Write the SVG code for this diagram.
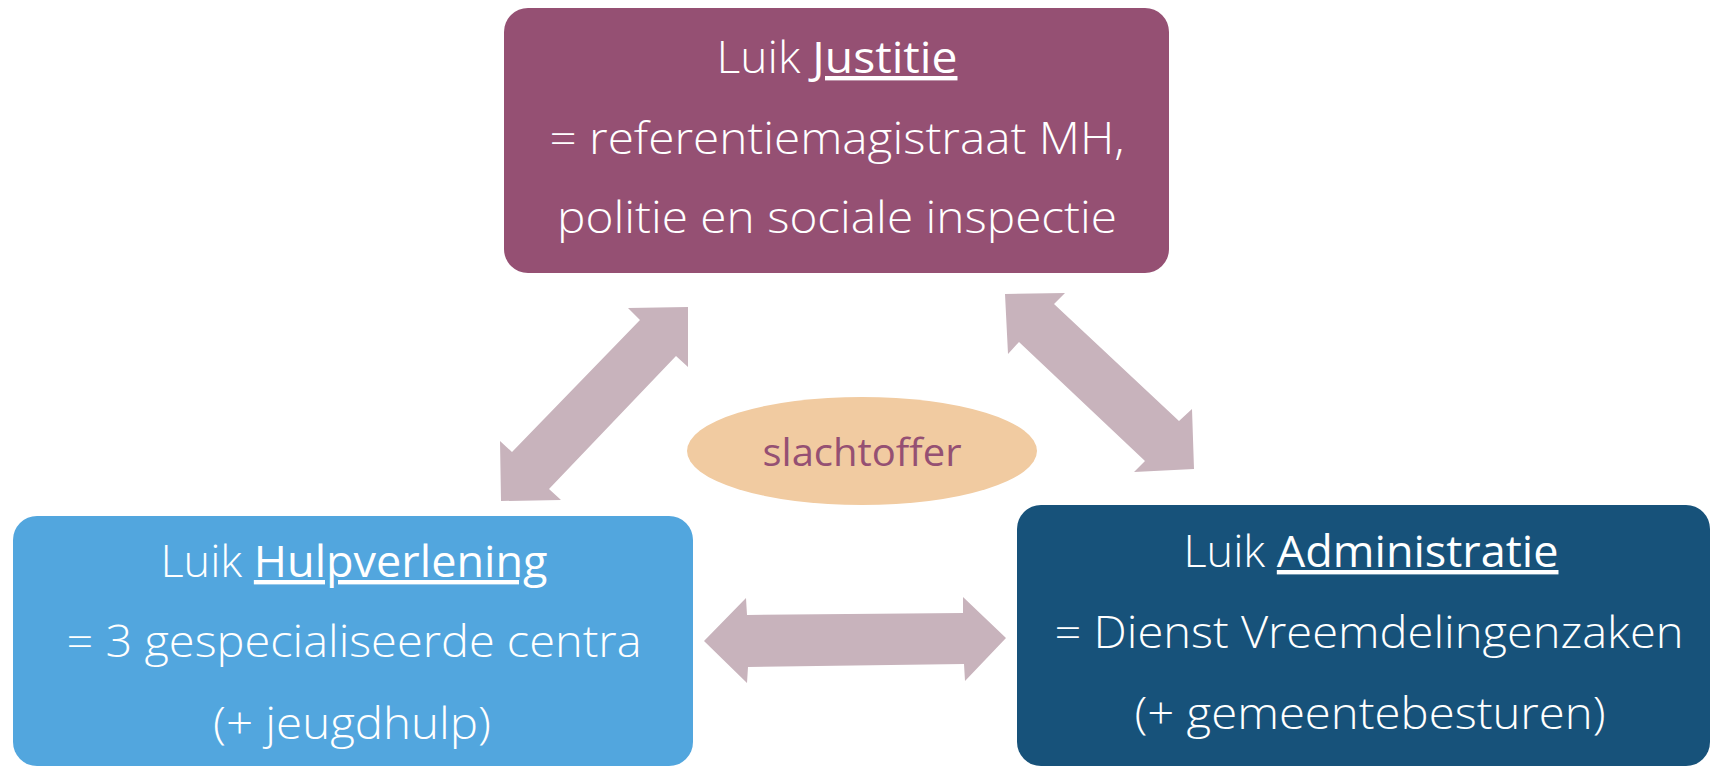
<svg xmlns="http://www.w3.org/2000/svg" width="1711" height="767" viewBox="0 0 1711 767">
<style>
.lbl{font-family:"Open Sans","Liberation Sans",sans-serif;font-size:44px;font-weight:300;fill:#ffffff;text-anchor:middle}
.key{font-weight:400;text-decoration:underline}
.arrow{fill:#C8B3BC}
</style>
<rect width="1711" height="767" fill="#ffffff"/>
<g id="connectors">
<polygon class="arrow" points="628,308 688,307 688,367 676,356 549,489 561,500 501,501 500,441 512,452 640,320"/>
<polygon class="arrow" points="1005,294 1065,293 1054,304 1179,421 1192,409 1194,469 1134,472 1145,461 1019,342 1008,354"/>
<polygon class="arrow" points="704,641 746,598 747,615 963,613 963,597 1006,638 965,681 964,664 748,667 747,683"/>
</g>
<g id="justitie">
<rect x="504" y="8" width="665" height="265" rx="24" fill="#955073"/>
<text class="lbl" x="837" y="73" textLength="241" lengthAdjust="spacingAndGlyphs">Luik <tspan class="key">Justitie</tspan></text>
<text class="lbl" x="837" y="154" textLength="575" lengthAdjust="spacingAndGlyphs">= referentiemagistraat MH,</text>
<text class="lbl" x="837" y="233" textLength="560" lengthAdjust="spacingAndGlyphs">politie en sociale inspectie</text>
</g>
<g id="hulpverlening">
<rect x="13" y="516" width="680" height="250" rx="24" fill="#52A6DE"/>
<text class="lbl" x="354" y="577" textLength="387" lengthAdjust="spacingAndGlyphs">Luik <tspan class="key">Hulpverlening</tspan></text>
<text class="lbl" x="354" y="657" textLength="575" lengthAdjust="spacingAndGlyphs">= 3 gespecialiseerde centra</text>
<text class="lbl" x="352" y="739" textLength="278" lengthAdjust="spacingAndGlyphs">(+ jeugdhulp)</text>
</g>
<g id="administratie">
<rect x="1017" y="505" width="693" height="261" rx="24" fill="#17527A"/>
<text class="lbl" x="1371" y="567" textLength="375" lengthAdjust="spacingAndGlyphs">Luik <tspan class="key">Administratie</tspan></text>
<text class="lbl" x="1369" y="648" textLength="629" lengthAdjust="spacingAndGlyphs">= Dienst Vreemdelingenzaken</text>
<text class="lbl" x="1370" y="729" textLength="471" lengthAdjust="spacingAndGlyphs">(+ gemeentebesturen)</text>
</g>
<g id="slachtoffer">
<ellipse cx="862" cy="451" rx="175" ry="54" fill="#F1CBA1"/>
<text x="862" y="466" textLength="199" lengthAdjust="spacingAndGlyphs" style="font-family:'Open Sans','Liberation Sans',sans-serif;font-size:39px;fill:#955073;text-anchor:middle">slachtoffer</text>
</g>
</svg>
